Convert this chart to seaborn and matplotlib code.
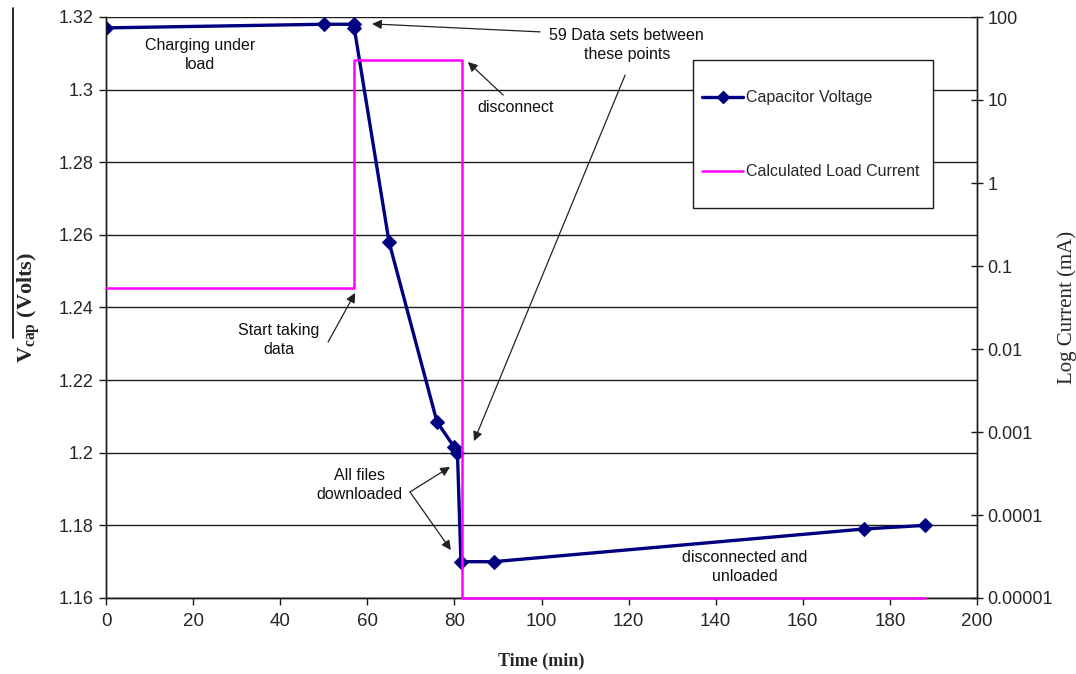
import numpy as np
import pandas as pd
import matplotlib
matplotlib.use('Agg')
import matplotlib.pyplot as plt
import seaborn as sns
from matplotlib.lines import Line2D
from matplotlib.patches import Rectangle
from matplotlib.ticker import FuncFormatter

# capacitor voltage
time_v = [0, 50, 57, 57, 65, 76, 80, 80.7, 81.5, 89, 174, 188]
volts = [1.317, 1.318, 1.318, 1.317, 1.258, 1.2085, 1.2015, 1.200, 1.170, 1.170, 1.179, 1.180]

# calculated load current, step values (mA)
time_i = [0, 57, 81.8, 188]
current_ma = [0.055, 30, 0.00001, 0.00001]

v_ticks = [1.16, 1.18, 1.20, 1.22, 1.24, 1.26, 1.28, 1.30, 1.32]
i_ticks = [0.00001, 0.0001, 0.001, 0.01, 0.1, 1, 10, 100]
i_labels = ['0.00001', '0.0001', '0.001', '0.01', '0.1', '1', '10', '100']
t_ticks = list(range(0, 201, 20))

sns.set_theme(style='ticks')
plt.rcParams['font.family'] = ['Liberation Sans', 'DejaVu Sans']
plt.rcParams['mathtext.default'] = 'regular'

df_v = pd.DataFrame({'t': time_v, 'v': volts})
df_i = pd.DataFrame({'t': time_i, 'i': current_ma})

fig = plt.figure(figsize=(10.76, 6.74), dpi=100)
ax = fig.add_axes([106 / 1076, 1 - 598 / 674, 871 / 1076, 581 / 674])
ax2 = ax.twinx()
ax2.set_yscale('log')

navy = '#000080'
magenta = '#FF00FF'

sns.lineplot(data=df_v, x='t', y='v', ax=ax, sort=False, estimator=None,
             color=navy, lw=2.4, marker='D', markersize=7, markeredgecolor=navy,
             label='Capacitor Voltage', legend=False, zorder=3)
sns.lineplot(data=df_i, x='t', y='i', ax=ax2, sort=False, estimator=None,
             color=magenta, lw=1.8, drawstyle='steps-post', clip_on=False,
             label='Calculated Load Current', legend=False, zorder=3)

ax.set_xlim(0, 200)
ax.set_ylim(1.16, 1.32)
ax2.set_ylim(0.00001, 100)

ax.set_xticks(t_ticks)
ax.set_yticks(v_ticks)
ax.yaxis.set_major_formatter(FuncFormatter(lambda y, p: f'{y:g}'))
ax2.set_yticks(i_ticks)
ax2.set_yticklabels(i_labels)
ax2.minorticks_off()

for ln in v_ticks:
    ax.axhline(ln, color='#1a1a1a', lw=1.0, zorder=1)

for a in (ax, ax2):
    a.spines['top'].set_visible(False)
    for s in a.spines.values():
        s.set_color('#1a1a1a')
        s.set_linewidth(1.0)

ax.tick_params(axis='y', direction='out', length=5, width=1, color='#1a1a1a',
               labelsize=13, pad=4)
ax.tick_params(axis='x', direction='out', length=5, width=1, color='#1a1a1a',
               labelsize=13.5, pad=6)
ax2.tick_params(axis='y', direction='inout', length=9, width=1, color='#1a1a1a',
                labelsize=13, pad=3)

ax.set_xlabel('Time (min)', family='Liberation Serif', fontweight='bold',
              fontsize=13, labelpad=16)
ax.set_ylabel('V$_{cap}$ (Volts)', family='Liberation Serif', fontweight='bold',
              fontsize=16, labelpad=12)
ax2.set_ylabel('Log Current (mA)', family='Liberation Serif', fontsize=15,
               labelpad=3)

# the odd line beside the left axis label
fig.add_artist(Line2D([13 / 1076, 13 / 1076], [1 - 8 / 674, 1 - 338 / 674],
                      color='black', lw=1.2, transform=fig.transFigure))

txt = dict(fontsize=11.5, ha='center', va='center', color='#111111',
           linespacing=1.35)
arrow = dict(arrowstyle='-|>', color='#222222', lw=0.9, mutation_scale=14,
             shrinkA=0, shrinkB=0)

ax.text(21.6, 1.3095, 'Charging under\nload', **txt)
ax.text(119.6, 1.3123, '59 Data sets between\nthese points', **txt)
ax.annotate('', xy=(61.1, 1.3181), xytext=(99.7, 1.3159), arrowprops=arrow)
ax.annotate('', xy=(84.5, 1.2032), xytext=(119.2, 1.3040), arrowprops=arrow)
ax.text(94.1, 1.2952, 'disconnect', **txt)
ax.annotate('', xy=(83.1, 1.3076), xytext=(91.2, 1.2985), arrowprops=arrow)
ax.text(39.7, 1.2311, 'Start taking\ndata', **txt)
ax.annotate('', xy=(57.2, 1.2440), xytext=(51.0, 1.2305), arrowprops=arrow)
ax.text(58.3, 1.1911, 'All files\ndownloaded', **txt)
ax.annotate('', xy=(79.0, 1.1961), xytext=(69.8, 1.1892), arrowprops=arrow)
ax.annotate('', xy=(79.2, 1.1732), xytext=(69.8, 1.1892), arrowprops=arrow)
ax.text(146.7, 1.1685, 'disconnected and\nunloaded', **txt)

# legend box
ax2.add_patch(Rectangle((0.674, 0.671), 0.275, 0.255, transform=ax2.transAxes,
                        facecolor='white', edgecolor='#1a1a1a', lw=1.0, zorder=5))
handles = [Line2D([], [], color=navy, lw=2.4, marker='D', markersize=6),
           Line2D([], [], color=magenta, lw=1.8)]
leg = ax2.legend(handles, ['Capacitor Voltage', 'Calculated Load Current'],
                 loc='upper left', bbox_to_anchor=(0.684, 0.874), frameon=False,
                 fontsize=11.5, handlelength=2.6, handletextpad=0.2,
                 labelspacing=3.7, borderpad=0, borderaxespad=0)
leg.set_zorder(6)

fig.savefig('out.png', dpi=100, facecolor='white')
